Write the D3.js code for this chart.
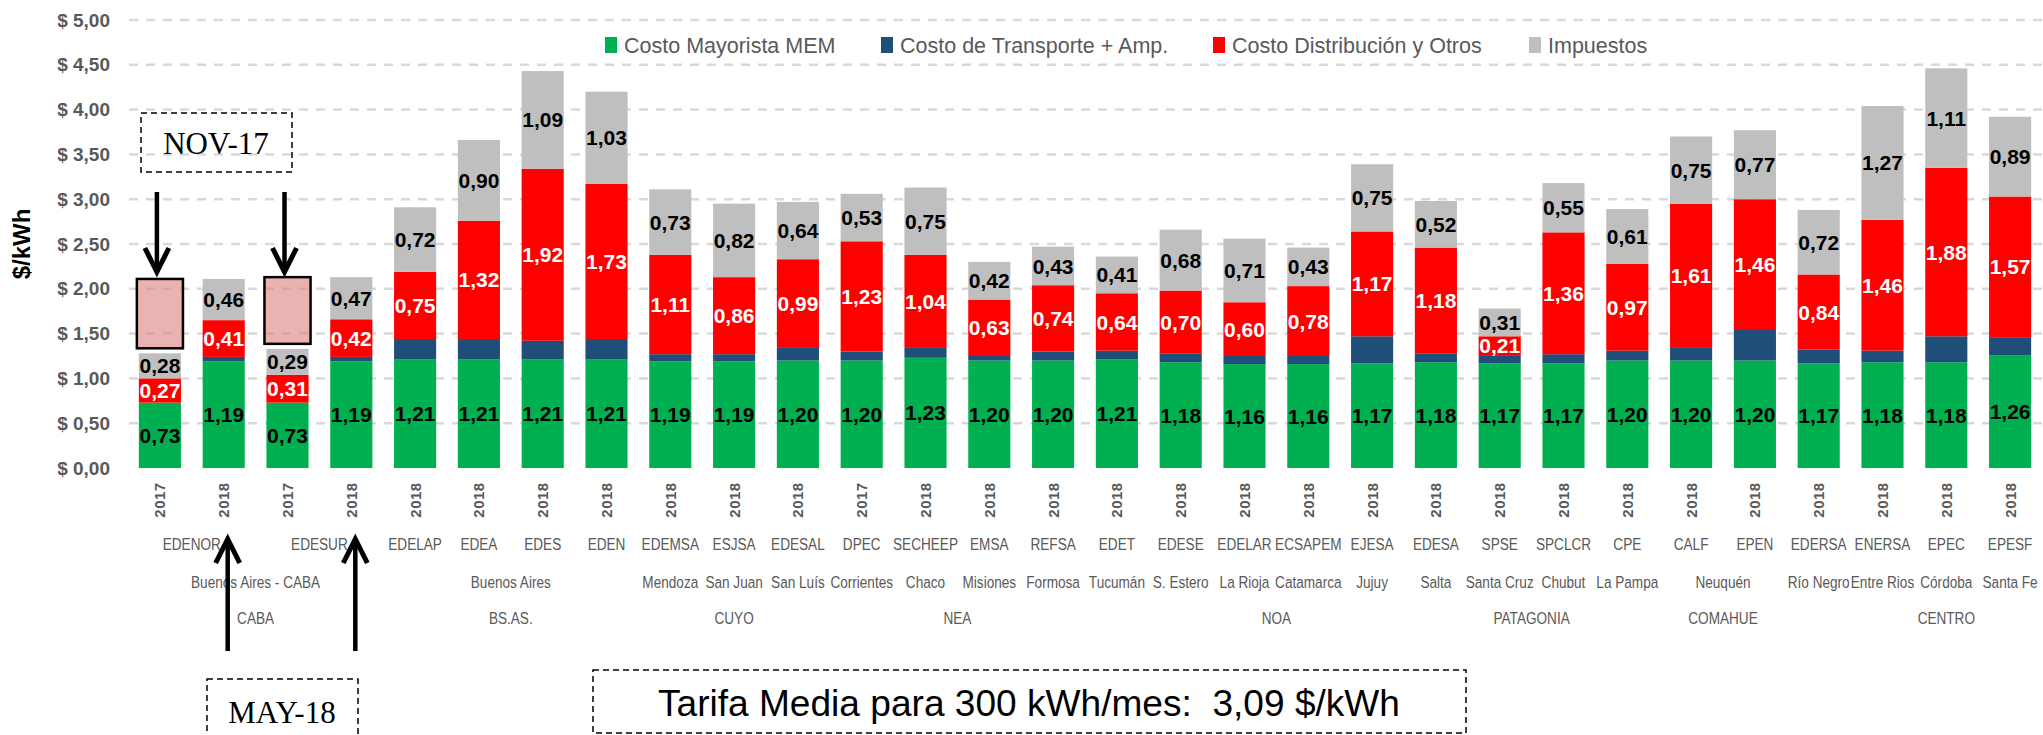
<!DOCTYPE html>
<html lang="es">
<head>
  <meta charset="utf-8">
  <title>Tarifa media por distribuidora</title>
  <style>
    body {
      margin: 0;
      background-color: #fff;
    }
    svg text {
      font-family: "Liberation Sans", Arial, sans-serif;
    }
  </style>
</head>
<body>
  <svg id="chart" width="2043" height="735"></svg>
  <script src="https://d3js.org/d3.v7.min.js"></script>
  <script>
    // data ($/kWh)
    var companies = ["EDENOR", "EDENOR", "EDESUR", "EDESUR", "EDELAP", "EDEA", "EDES", "EDEN", "EDEMSA", "ESJSA",
      "EDESAL", "DPEC", "SECHEEP", "EMSA", "REFSA", "EDET", "EDESE", "EDELAR", "ECSAPEM", "EJESA",
      "EDESA", "SPSE", "SPCLCR", "CPE", "CALF", "EPEN", "EDERSA", "ENERSA", "EPEC", "EPESF"];
    var years = ["2017", "2018", "2017", "2018", "2018", "2018", "2018", "2018", "2018", "2018",
      "2018", "2017", "2018", "2018", "2018", "2018", "2018", "2018", "2018", "2018",
      "2018", "2018", "2018", "2018", "2018", "2018", "2018", "2018", "2018", "2018"];
    var provinces = ["Buenos Aires - CABA", "Buenos Aires - CABA", "Buenos Aires - CABA", "Buenos Aires - CABA",
      "Buenos Aires", "Buenos Aires", "Buenos Aires", "Buenos Aires", "Mendoza", "San Juan",
      "San Luís", "Corrientes", "Chaco", "Misiones", "Formosa", "Tucumán", "S. Estero", "La Rioja", "Catamarca", "Jujuy",
      "Salta", "Santa Cruz", "Chubut", "La Pampa", "Neuquén", "Neuquén", "Río Negro", "Entre Rios", "Córdoba", "Santa Fe"];
    var regions = ["CABA", "CABA", "CABA", "CABA", "BS.AS.", "BS.AS.", "BS.AS.", "BS.AS.", "CUYO", "CUYO",
      "CUYO", "NEA", "NEA", "NEA", "NEA", "NOA", "NOA", "NOA", "NOA", "NOA",
      "NOA", "PATAGONIA", "PATAGONIA", "COMAHUE", "COMAHUE", "COMAHUE", "COMAHUE", "CENTRO", "CENTRO", "CENTRO"];

    var mem = [0.73, 1.19, 0.73, 1.19, 1.21, 1.21, 1.21, 1.21, 1.19, 1.19,
      1.20, 1.20, 1.23, 1.20, 1.20, 1.21, 1.18, 1.16, 1.16, 1.17,
      1.18, 1.17, 1.17, 1.20, 1.20, 1.20, 1.17, 1.18, 1.18, 1.26];
    var transporte = [0.00, 0.05, 0.00, 0.05, 0.23, 0.23, 0.21, 0.23, 0.08, 0.08,
      0.14, 0.10, 0.11, 0.05, 0.10, 0.10, 0.10, 0.09, 0.09, 0.30,
      0.10, 0.09, 0.10, 0.11, 0.14, 0.34, 0.15, 0.13, 0.29, 0.20];
    var distribucion = [0.27, 0.41, 0.31, 0.42, 0.75, 1.32, 1.92, 1.73, 1.11, 0.86,
      0.99, 1.23, 1.04, 0.63, 0.74, 0.64, 0.70, 0.60, 0.78, 1.17,
      1.18, 0.21, 1.36, 0.97, 1.61, 1.46, 0.84, 1.46, 1.88, 1.57];
    var impuestos = [0.28, 0.46, 0.29, 0.47, 0.72, 0.90, 1.09, 1.03, 0.73, 0.82,
      0.64, 0.53, 0.75, 0.42, 0.43, 0.41, 0.68, 0.71, 0.43, 0.75,
      0.52, 0.31, 0.55, 0.61, 0.75, 0.77, 0.72, 1.27, 1.11, 0.89];

    var seriesKeys = ["mem", "transporte", "distribucion", "impuestos"];
    var seriesNames = ["Costo Mayorista MEM", "Costo de Transporte + Amp.", "Costo Distribución y Otros", "Impuestos"];
    var seriesColors = ["#00b050", "#1f4e79", "#ff0000", "#bfbfbf"];
    var labelColors = ["#000", null, "#fff", "#000"];
    var yTicks = [0, 0.5, 1, 1.5, 2, 2.5, 3, 3.5, 4, 4.5, 5];

    var svg = d3.select("#chart");

    var loc = d3.formatLocale({ decimal: ",", thousands: ".", grouping: [3], currency: ["$ ", ""] });
    var fmtMoney = loc.format("$.2f");
    var fmtVal = loc.format(".2f");

    // scales
    var x = d3.scaleBand()
      .domain(d3.range(companies.length))
      .range([128, 2042])
      .paddingInner(0.34)
      .paddingOuter(0.17);
    var y = d3.scaleLinear().domain([0, 5]).range([468, 20]);
    var color = d3.scaleOrdinal().domain(seriesKeys).range(seriesColors);
    var cx = function (i) { return x(i) + x.bandwidth() / 2; };

    var rows = companies.map(function (c, i) {
      return { mem: mem[i], transporte: transporte[i], distribucion: distribucion[i], impuestos: impuestos[i] };
    });
    var stacked = d3.stack().keys(seriesKeys)(rows);
    var totals = rows.map(function (r) { return d3.sum(seriesKeys, function (k) { return r[k]; }); });

    // gridlines
    svg.append("g")
      .selectAll("line")
      .data(yTicks.slice(1))
      .enter()
      .append("line")
      .attr("x1", 129)
      .attr("x2", 2043)
      .attr("y1", function (d) { return y(d); })
      .attr("y2", function (d) { return y(d); })
      .attr("stroke", "#d9d9d9")
      .attr("stroke-width", 2.5)
      .attr("stroke-dasharray", "9,8");

    // y axis
    var yAxis = svg.append("g")
      .attr("transform", "translate(128,0)")
      .call(d3.axisLeft(y).tickValues(yTicks).tickFormat(fmtMoney).tickSize(0).tickPadding(18));
    yAxis.select(".domain").remove();
    yAxis.selectAll("text")
      .attr("fill", "#595959")
      .style("font-size", "19px")
      .style("font-weight", "bold");

    svg.append("text")
      .attr("transform", "translate(22," + y(2.5) + ") rotate(-90)")
      .attr("text-anchor", "middle")
      .attr("dy", "0.35em")
      .style("font-size", "24px")
      .style("font-weight", "bold")
      .attr("fill", "#000")
      .text("$/kWh");

    // bars
    var layers = svg.append("g")
      .selectAll("g")
      .data(stacked)
      .enter()
      .append("g")
      .attr("fill", function (d) { return color(d.key); });

    layers.selectAll("rect")
      .data(function (d) { return d; })
      .enter()
      .append("rect")
      .attr("x", function (d, i) { return x(i); })
      .attr("y", function (d) { return y(d[1]); })
      .attr("height", function (d) { return y(d[0]) - y(d[1]); })
      .attr("width", x.bandwidth());

    // data labels (no label on transport)
    stacked.forEach(function (layer, k) {
      if (!labelColors[k]) return;
      svg.append("g")
        .selectAll("text")
        .data(layer)
        .enter()
        .append("text")
        .attr("x", function (d, i) { return cx(i); })
        .attr("y", function (d) { return y((d[0] + d[1]) / 2); })
        .attr("dy", "0.36em")
        .attr("text-anchor", "middle")
        .attr("fill", labelColors[k])
        .style("font-size", "21px")
        .style("font-weight", "bold")
        .text(function (d) { return fmtVal(d[1] - d[0]); });
    });

    // category axis: years, companies, provinces, regions
    svg.append("g")
      .selectAll("text")
      .data(years)
      .enter()
      .append("text")
      .attr("transform", function (d, i) { return "translate(" + cx(i) + ",500) rotate(-90)"; })
      .attr("text-anchor", "middle")
      .attr("dy", "0.36em")
      .attr("fill", "#595959")
      .style("font-size", "15px")
      .style("font-weight", "bold")
      .style("letter-spacing", "0.5px")
      .text(function (d) { return d; });

    function groups(arr) {
      var out = [];
      arr.forEach(function (v, i) {
        var last = out[out.length - 1];
        if (last && last.label === v) last.end = i;
        else out.push({ label: v, start: i, end: i });
      });
      return out;
    }

    // condensed labels, squeezed horizontally like the original narrow font
    function drawLevel(arr, yPos) {
      svg.append("g")
        .selectAll("text")
        .data(groups(arr))
        .enter()
        .append("text")
        .attr("transform", function (d) {
          return "translate(" + (cx(d.start) + cx(d.end)) / 2 + "," + yPos + ") scale(0.8,1)";
        })
        .attr("dy", "0.36em")
        .attr("text-anchor", "middle")
        .attr("fill", "#595959")
        .style("font-size", "17px")
        .text(function (d) { return d.label; });
    }
    drawLevel(companies, 544);
    drawLevel(provinces, 582);
    drawLevel(regions, 618);

    // legend
    var legendX = [605, 881, 1213, 1529];
    var legend = svg.append("g")
      .selectAll("g")
      .data(seriesNames)
      .enter()
      .append("g")
      .attr("transform", function (d, i) { return "translate(" + legendX[i] + ",45)"; });
    legend.append("rect")
      .attr("x", 0)
      .attr("y", -8)
      .attr("width", 12)
      .attr("height", 16)
      .attr("fill", function (d, i) { return seriesColors[i]; });
    legend.append("text")
      .attr("x", 19)
      .attr("dy", "0.36em")
      .attr("fill", "#595959")
      .style("font-size", "21.5px")
      .text(function (d) { return d; });

    // annotations: NOV-17 (2017 bars) and MAY-18 (2018 bars)
    var ann = svg.append("g");
    var serif = "'Liberation Serif', 'Times New Roman', serif";

    ann.append("rect")
      .attr("x", 141).attr("y", 113).attr("width", 151).attr("height", 59)
      .attr("fill", "none").attr("stroke", "#000").attr("stroke-width", 1.5)
      .attr("stroke-dasharray", "6,4");
    ann.append("text")
      .attr("x", 216).attr("y", 143).attr("dy", "0.35em")
      .attr("text-anchor", "middle")
      .style("font-family", serif)
      .style("font-size", "31px")
      .text("NOV-17");

    [0, 2].forEach(function (i) {
      var ax = cx(i) - 3;
      // shaded step from the 2017 total up to the 2018 total
      ann.append("rect")
        .attr("x", x(i) - 2)
        .attr("y", y(totals[i + 1]))
        .attr("width", x.bandwidth() + 4)
        .attr("height", y(totals[i]) - y(totals[i + 1]) - 5)
        .attr("fill", "#dc7f7b")
        .attr("fill-opacity", 0.6)
        .attr("stroke", "#000")
        .attr("stroke-width", 2.5);
      ann.append("line")
        .attr("x1", ax).attr("x2", ax).attr("y1", 192).attr("y2", 270)
        .attr("stroke", "#000").attr("stroke-width", 4.5);
      ann.append("polyline")
        .attr("points", (ax - 12) + ",248 " + ax + ",272 " + (ax + 12) + ",248")
        .attr("fill", "none").attr("stroke", "#000").attr("stroke-width", 5);
    });

    [1, 3].forEach(function (i) {
      var ax = cx(i) + 4;
      ann.append("line")
        .attr("x1", ax).attr("x2", ax).attr("y1", 651).attr("y2", 542)
        .attr("stroke", "#000").attr("stroke-width", 4.5);
      ann.append("polyline")
        .attr("points", (ax - 12) + ",563 " + ax + ",539 " + (ax + 12) + ",563")
        .attr("fill", "none").attr("stroke", "#000").attr("stroke-width", 5);
    });

    ann.append("rect")
      .attr("x", 207).attr("y", 679).attr("width", 151).attr("height", 70)
      .attr("fill", "none").attr("stroke", "#000").attr("stroke-width", 1.5)
      .attr("stroke-dasharray", "6,4");
    ann.append("text")
      .attr("x", 282).attr("y", 712).attr("dy", "0.35em")
      .attr("text-anchor", "middle")
      .style("font-family", serif)
      .style("font-size", "31px")
      .text("MAY-18");

    // average tariff box
    ann.append("rect")
      .attr("x", 593).attr("y", 670).attr("width", 873).attr("height", 63)
      .attr("fill", "none").attr("stroke", "#000").attr("stroke-width", 1.5)
      .attr("stroke-dasharray", "6,4");
    ann.append("text")
      .attr("x", 1029).attr("y", 703).attr("dy", "0.35em")
      .attr("text-anchor", "middle")
      .style("font-size", "37px")
      .style("white-space", "pre")
      .attr("textLength", 742)
      .attr("lengthAdjust", "spacingAndGlyphs")
      .text("Tarifa Media para 300 kWh/mes:  3,09 $/kWh");
  </script>
</body>
</html>
